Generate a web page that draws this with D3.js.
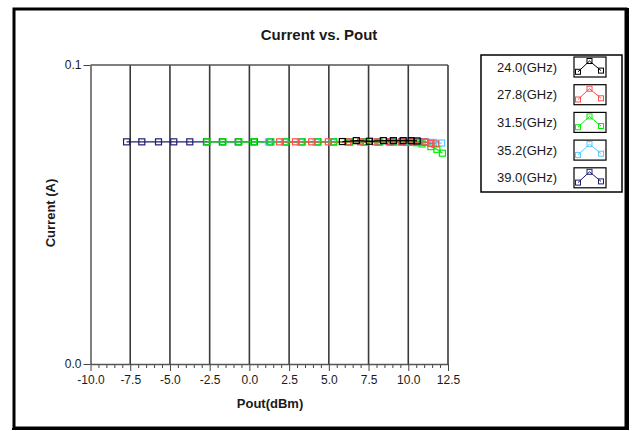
<!DOCTYPE html>
<html>
<head>
<meta charset="utf-8">
<script src="https://cdn.jsdelivr.net/npm/d3@7/dist/d3.min.js"></script>
<style>
  html, body { margin: 0; padding: 0; background: #fff; }
  svg { display: block; }
  text { font-family: "Liberation Sans", Arial, sans-serif; fill: #1a1a1a; }
</style>
</head>
<body>
<svg id="chart" width="632" height="431"></svg>
<script>
// Frequencies shown in the legend
const freqs = ["24.0(GHz)", "27.8(GHz)", "31.5(GHz)", "35.2(GHz)", "39.0(GHz)"];
const colors = ["#000000", "#ff4d4d", "#00ee00", "#5cc8ff", "#1e1e6e"];

// Output power (dBm) per frequency
const pout24 = [5.85, 6.73, 7.55, 8.43, 9.06, 9.68, 10.18, 10.56];
const pout278 = [1.9, 2.9, 3.92, 4.97, 6.2, 7.0, 7.9, 8.8, 9.6, 10.3, 11.03, 11.42, 11.73];
const pout315 = [-2.67, -1.66, -0.66, 0.26, 1.35, 2.3, 3.3, 4.3, 5.3, 6.3, 7.3, 8.2, 9.1, 9.9, 10.5, 10.87, 11.42, 11.8, 12.15];
const pout352 = [1.2, 2.2, 3.2, 4.2, 5.2, 6.2, 7.2, 8.1, 9.0, 9.8, 10.5, 11.1, 11.6, 12.1];
const pout39 = [-7.73, -6.77, -5.72, -4.76, -3.75, -2.7, -1.7, -0.7, 0.3, 1.3, 2.3, 3.3, 4.3, 5.3, 6.3, 7.2, 8.1, 8.9, 9.6, 10.2, 10.7, 11.1];

// Drain current (A) per frequency
const cur24 = [0.0744, 0.0747, 0.0745, 0.0747, 0.0747, 0.0747, 0.0747, 0.0746];
const cur278 = [0.0743, 0.0743, 0.0743, 0.0743, 0.0743, 0.0743, 0.0743, 0.0743, 0.0743, 0.0743, 0.0743, 0.0738, 0.0736];
const cur315 = [0.0743, 0.0743, 0.0743, 0.0743, 0.0743, 0.0743, 0.0743, 0.0743, 0.0743, 0.0743, 0.0743, 0.0742, 0.0742, 0.0741, 0.0740, 0.0736, 0.0727, 0.0718, 0.0705];
const cur352 = [0.0743, 0.0743, 0.0743, 0.0743, 0.0743, 0.0743, 0.0743, 0.0743, 0.0743, 0.0743, 0.0743, 0.0743, 0.0741, 0.0739];
const cur39 = [0.0743, 0.0743, 0.0743, 0.0743, 0.0743, 0.0743, 0.0743, 0.0743, 0.0743, 0.0743, 0.0743, 0.0743, 0.0743, 0.0743, 0.0743, 0.0743, 0.0743, 0.0743, 0.0743, 0.0743, 0.0743, 0.0742];

// Axis ticks
const xTicks = [-10.0, -7.5, -5.0, -2.5, 0.0, 2.5, 5.0, 7.5, 10.0, 12.5];
const yTicks = [0.0, 0.1];

const seriesPout = [pout24, pout278, pout315, pout352, pout39];
const seriesCur = [cur24, cur278, cur315, cur352, cur39];

const svg = d3.select("#chart");
const fmt = d => d.toFixed(1);

// Outer frame
svg.append("rect").attr("x", 14).attr("y", 9).attr("width", 612).attr("height", 419)
  .attr("fill", "#fff").attr("stroke", "#000").attr("stroke-width", 3);
svg.append("line").attr("x1", 627.5).attr("x2", 627.5).attr("y1", 8).attr("y2", 430)
  .attr("stroke", "#000").attr("stroke-width", 3);
svg.append("line").attr("x1", 12).attr("x2", 629).attr("y1", 429).attr("y2", 429)
  .attr("stroke", "#000").attr("stroke-width", 2);

const x = d3.scaleLinear().domain([-10, 12.5]).range([90.5, 448]);
const y = d3.scaleLinear().domain([0, 0.1]).range([364, 65]);

// Title
svg.append("text").attr("x", 319).attr("y", 40).attr("text-anchor", "middle")
  .style("font-size", "15px").style("font-weight", "bold").text("Current vs. Pout");

// Vertical grid lines
svg.append("g").selectAll("line").data(xTicks.slice(1)).join("line")
  .attr("x1", d => x(d)).attr("x2", d => x(d)).attr("y1", y(0.1)).attr("y2", y(0))
  .attr("stroke", "#3a3a3a").attr("stroke-width", 1.6);

// Plot border (top)
svg.append("line").attr("x1", x(-10)).attr("x2", x(12.5)).attr("y1", y(0.1)).attr("y2", y(0.1))
  .attr("stroke", "#555").attr("stroke-width", 1.5);

// X axis: minor ticks, then major ticks with labels
const minorX = d3.range(-10, 12.51, 0.5).filter(v => Math.abs(v / 2.5 - Math.round(v / 2.5)) > 1e-6);
const gxMinor = svg.append("g").attr("transform", `translate(0,${y(0)})`)
  .call(d3.axisBottom(x).tickValues(minorX).tickSize(4).tickFormat(""));
gxMinor.select(".domain").remove();
gxMinor.selectAll("line").attr("stroke", "#444");

const gx = svg.append("g").attr("transform", `translate(0,${y(0)})`)
  .call(d3.axisBottom(x).tickValues(xTicks).tickSize(7).tickSizeOuter(0).tickPadding(4).tickFormat(fmt));
gx.select(".domain").attr("stroke", "#555").attr("stroke-width", 1.5);
gx.selectAll("line").attr("stroke", "#444");
gx.selectAll("text").style("font-size", "12px").style("font-family", "'Liberation Sans', Arial, sans-serif").attr("fill", "#1a1a1a");

// Y axis
const gy = svg.append("g").attr("transform", `translate(${x(-10)},0)`)
  .call(d3.axisLeft(y).tickValues(yTicks).tickSize(7).tickSizeOuter(0).tickPadding(2).tickFormat(fmt));
gy.select(".domain").attr("stroke", "#555").attr("stroke-width", 1.5);
gy.selectAll("line").attr("stroke", "#444");
gy.selectAll("text").style("font-size", "12px").style("font-family", "'Liberation Sans', Arial, sans-serif").attr("fill", "#1a1a1a");

// Axis titles
svg.append("text").attr("x", 270).attr("y", 408).attr("text-anchor", "middle")
  .style("font-size", "13px").style("font-weight", "bold").text("Pout(dBm)");
svg.append("text").attr("transform", "translate(55,213) rotate(-90)").attr("text-anchor", "middle")
  .style("font-size", "13px").style("font-weight", "bold").text("Current (A)");

// Series: drawn last-to-first so the first frequency lies on top
const line = d3.line().x(d => x(d[0])).y(d => y(d[1]));
const plotG = svg.append("g");
for (let i = freqs.length - 1; i >= 0; i--) {
  const pts = seriesPout[i].map((p, k) => [p, seriesCur[i][k]]);
  const g = plotG.append("g");
  g.append("path").datum(pts).attr("d", line).attr("fill", "none")
    .attr("stroke", colors[i]).attr("stroke-width", 1.3);
  g.selectAll("rect").data(pts).join("rect")
    .attr("x", d => x(d[0]) - 3).attr("y", d => y(d[1]) - 3)
    .attr("width", 6).attr("height", 6)
    .attr("fill", "none").attr("stroke", colors[i]).attr("stroke-width", 1.2);
}

// Legend
const lg = svg.append("g");
lg.append("rect").attr("x", 481).attr("y", 55).attr("width", 141).attr("height", 137)
  .attr("fill", "#fff").attr("stroke", "#000").attr("stroke-width", 1.5);
freqs.forEach((f, i) => {
  const cy = 67 + i * 27.7;
  lg.append("text").attr("x", 557).attr("y", cy + 4.5).attr("text-anchor", "end")
    .style("font-size", "13px").text(f);
  const bx = 574, by = cy - 10;
  lg.append("rect").attr("x", bx).attr("y", by).attr("width", 32).attr("height", 20)
    .attr("fill", "#fff").attr("stroke", "#000").attr("stroke-width", 1.2);
  const ix = d3.scaleLinear().domain([0, 2]).range([bx + 4, bx + 27]);
  const iy = d3.scaleLinear().domain([0, 1]).range([by + 16, by + 4]);
  const ipts = [[0, 0.1], [1, 1], [2, 0.2]];
  const iline = d3.line().x(d => ix(d[0])).y(d => iy(d[1]));
  lg.append("path").datum(ipts).attr("d", iline).attr("fill", "none")
    .attr("stroke", colors[i]).attr("stroke-width", 1);
  lg.selectAll(null).data(ipts).join("rect")
    .attr("x", d => ix(d[0]) - 2.5).attr("y", d => iy(d[1]) - 2.5)
    .attr("width", 5).attr("height", 5)
    .attr("fill", "none").attr("stroke", colors[i]).attr("stroke-width", 1);
});
</script>
</body>
</html>
